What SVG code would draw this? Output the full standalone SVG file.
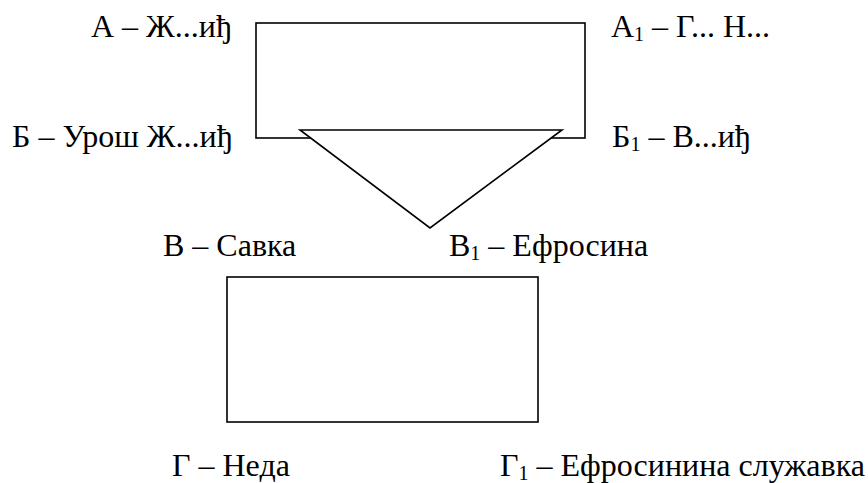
<svg xmlns="http://www.w3.org/2000/svg" width="868" height="483" viewBox="0 0 868 483">
<style>
.shape{fill:#fff;stroke:#000;stroke-width:1.6}
text{font-family:'Liberation Serif','DejaVu Serif',serif;font-size:32px;fill:#000}
.sub{font-size:20px}
</style>
<rect width="868" height="483" fill="#fff"/>
<g id="top-rect"><rect class="shape" x="256" y="23" width="329" height="115"/></g>
<g id="triangle"><polygon class="shape" points="300,130 562,130 430,228"/></g>
<g id="bottom-rect"><rect class="shape" x="227" y="277" width="311" height="145"/></g>
<g id="labels" font-family="Liberation Serif, DejaVu Serif, serif">
<text x="91" y="37">А – Ж...иђ</text>
<text x="611" y="37">А<tspan class="sub" dy="4">1</tspan><tspan dy="-4"> – Г... Н...</tspan></text>
<text x="12" y="147">Б – Урош Ж...иђ</text>
<text x="612" y="147">Б<tspan class="sub" dy="4">1</tspan><tspan dy="-4"> – В...иђ</tspan></text>
<text x="163" y="256">В – Савка</text>
<text x="449" y="256">В<tspan class="sub" dy="4">1</tspan><tspan dy="-4"> – Ефросина</tspan></text>
<text x="172" y="476">Г – Неда</text>
<text x="500" y="476">Г<tspan class="sub" dy="4">1</tspan><tspan dy="-4"> – Ефросинина служавка</tspan></text>
</g>
</svg>
